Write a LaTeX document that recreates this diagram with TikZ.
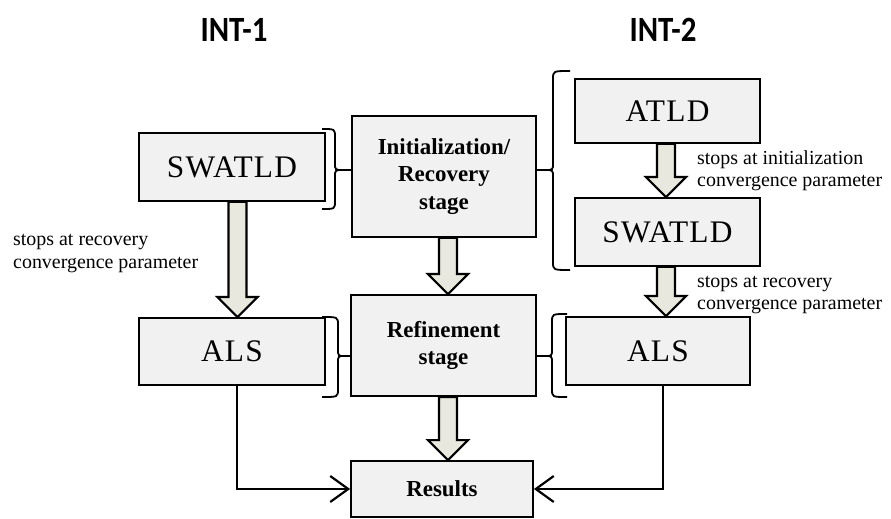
\documentclass[tikz,border=0pt]{standalone}
\usepackage{fontspec}
\setmainfont{Liberation Serif}
\newfontfamily\tnr{Liberation Serif}
\newfontfamily\tnrsp[LetterSpace=4]{Liberation Serif}
\newfontfamily\calib{Carlito}
\usetikzlibrary{calc,arrows.meta}
\definecolor{boxfill}{RGB}{241,241,241}
\definecolor{arrfill}{RGB}{232,232,222}
\newcommand{\curly}[6]{\draw[brc] (#1,#4) .. controls (#2,#4) .. (#2,{#4+8}) -- (#2,{#5-7}) .. controls (#2,#5) .. (#3,#5) .. controls (#2,#5) .. (#2,{#5+7}) -- (#2,{#6-8}) .. controls (#2,#6) .. (#1,#6);}
\newcommand{\blockarr}[3]{%
  \path (#1,0 |- #2.south) coordinate (ba) (#1,0 |- #3.north) coordinate (bb);
  \filldraw[blk] ($(ba)+(-9,0)$) -- ($(bb)+(-9,-20)$) -- ($(bb)+(-20,-20)$) -- (bb) -- ($(bb)+(20,-20)$) -- ($(bb)+(9,-20)$) -- ($(ba)+(9,0)$) -- cycle;}
\begin{document}
\begin{tikzpicture}[x=1bp,y=-1bp,
  box/.style={draw=black, line width=1.8bp, fill=boxfill, inner sep=0pt, align=center},
  big/.style={font=\tnrsp\fontsize{31.5}{31.5}\selectfont},
  bold/.style={font=\tnr\bfseries\fontsize{23}{28}\selectfont},
  note/.style={anchor=west, align=left, inner sep=0pt, font=\tnr\fontsize{20}{22.5}\selectfont},
  head/.style={font=\calib\bfseries\fontsize{31}{31}\selectfont, yscale=1.15},
  blk/.style={draw=black, fill=arrfill, line width=2.2bp, line join=miter},
  brc/.style={draw=black, line width=1.8bp},
  conn/.style={draw=black, line width=2.2bp, -{Straight Barb[length=18bp,width=26bp]}}]
\useasboundingbox (0,0) rectangle (891,519);
\node[head, transform shape] (int1) at (234,30) {INT-1};
\node[head, transform shape] (int2) at (663,30) {INT-2};
\node[box, big, minimum width=186bp, minimum height=68bp] (swl) at (232,167) {SWATLD};
\node[box, bold, minimum width=184bp, minimum height=121bp] (init) at (444,176.5) {Initialization/\\Recovery\\stage};
\node[box, big, minimum width=185bp, minimum height=64bp] (atld) at (667.5,111) {ATLD};
\node[box, big, minimum width=185bp, minimum height=68bp] (swr) at (667.5,232) {SWATLD};
\node[box, big, minimum width=186bp, minimum height=67bp] (alsl) at (232,351.5) {ALS};
\node[box, bold, minimum width=185bp, minimum height=101bp] (ref) at (443.5,345.5) {Refinement\\stage};
\node[box, big, minimum width=184bp, minimum height=68bp] (alsr) at (658,351) {ALS};
\node[box, bold, minimum width=182bp, minimum height=56bp] (res) at (442,489) {Results};
\node[note] (n1) at (13,253.5) {stops at recovery\\convergence parameter};
\node[note] (n2) at (697,171) {stops at initialization\\convergence parameter};
\node[note] (n3) at (697,295) {stops at recovery\\convergence parameter};
\blockarr{237.5}{swl}{alsl}
\blockarr{448}{init}{ref}
\blockarr{448}{ref}{res}
\blockarr{666}{atld}{swr}
\blockarr{666}{swr}{alsr}
\curly{322}{335}{343}{129}{170}{209}
\coordinate (t1) at (343,170);
\draw[brc] (t1) -- (init.west |- t1);
\curly{570}{553}{545}{71}{170}{270}
\coordinate (t2) at (545,170);
\draw[brc] (t2) -- (init.east |- t2);
\curly{322}{338}{345}{317}{356}{397}
\coordinate (t3) at (345,356);
\draw[brc] (t3) -- (ref.west |- t3);
\curly{567}{552}{545}{314}{356}{397}
\coordinate (t4) at (545,356);
\draw[brc] (t4) -- (ref.east |- t4);
\draw[conn] (237,0 |- alsl.south) |- (res.west);
\draw[conn] (663,0 |- alsr.south) |- (res.east);
\end{tikzpicture}
\end{document}
